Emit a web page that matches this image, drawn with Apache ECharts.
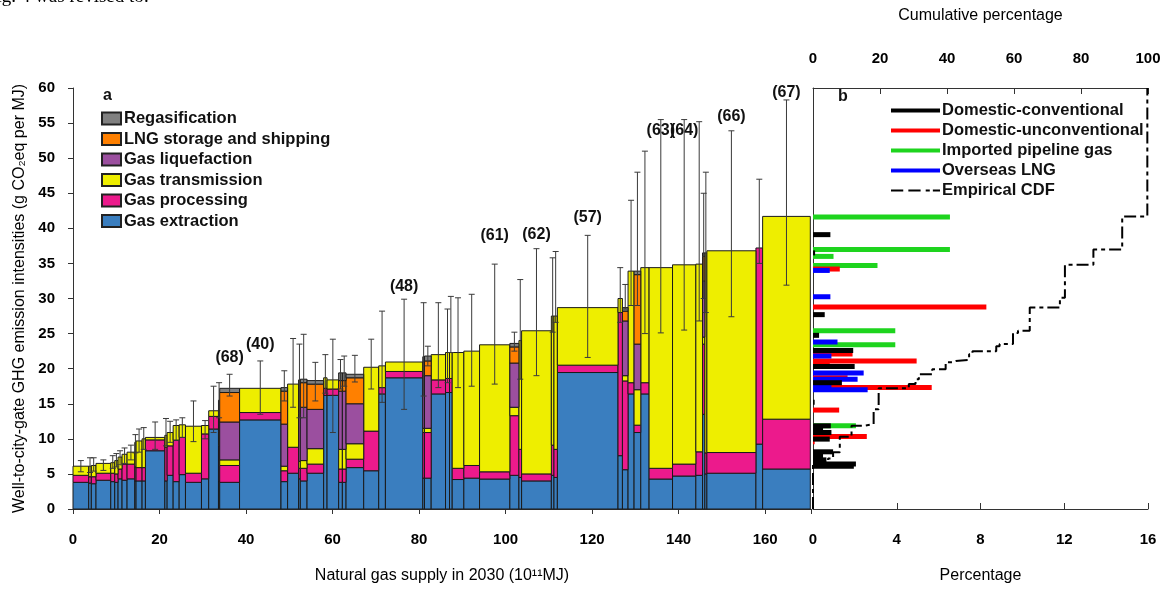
<!DOCTYPE html>
<html>
<head>
<meta charset="utf-8">
<script src="https://cdn.jsdelivr.net/npm/echarts@6.0.0/dist/echarts.min.js"></script>
<style>
  html, body { margin: 0; padding: 0; background: #fff; }
  #chart { width: 1166px; height: 589px; }
</style>
</head>
<body>
<div id="chart"></div>
<script>
// ---- panel a: supply (width of each region, 10^11 MJ) and stage intensities (g CO2eq/MJ)
var supplyWidth = [3.63, 0.61, 1.08, 3.41, 0.92, 0.77, 0.92, 1.16, 1.78, 0.30,
  1.39, 0.77, 4.49, 0.53, 1.39, 1.39, 1.46, 3.70, 1.67, 2.26,
  0.28, 4.59, 9.58, 1.53, 2.54, 0.40, 1.55, 3.84, 0.79, 2.68,
  0.86, 0.85, 4.08, 3.47, 1.55, 8.64, 0.39, 1.55, 3.31, 0.93,
  0.62, 2.69, 3.63, 7.01, 2.09, 0.62, 6.88, 0.60, 0.79, 14.02,
  1.02, 1.30, 1.39, 1.55, 1.92, 5.42, 5.39, 1.55, 0.53, 0.47,
  11.34, 1.55, 11.02];
var extraction = [3.8, 3.7, 3.6, 4.1, 3.9, 3.8, 4.3, 4.1, 4.3, 4.0,
  4.0, 4.0, 8.3, 4.0, 4.8, 3.9, 4.9, 3.8, 4.3, 11.4,
  4.0, 3.8, 12.7, 3.9, 5.1, 4.3, 4.0, 5.1, 16.2, 16.2,
  3.8, 3.8, 5.9, 5.45, 16.4, 18.7, 4.4, 4.4, 16.4, 16.6,
  16.6, 4.2, 4.4, 4.27, 4.8, 4.5, 4.0, 4.8, 4.5, 19.45,
  7.6, 5.6, 16.4, 10.9, 16.4, 4.27, 4.7, 4.8, 13.5, 5.0,
  5.1, 9.25, 5.7];
var processing = [1.0, 0.9, 1.0, 1.0, 1.2, 1.2, 1.4, 2.3, 2.1, 2.0,
  1.9, 1.9, 1.55, 4.8, 4.2, 5.9, 5.3, 1.3, 6.4, 1.8,
  5.0, 2.4, 1.05, 1.55, 3.7, 1.5, 1.8, 1.3, 1.0, 0.9,
  1.9, 1.9, 1.2, 5.65, 0.9, 0.9, 6.5, 6.5, 2.0, 2.0,
  2.0, 1.6, 1.8, 1.03, 8.5, 4.0, 1.0, 4.3, 4.0, 1.05,
  20.4, 12.65, 1.6, 1.05, 1.6, 1.53, 1.7, 3.35, 10.0, 3.0,
  2.95, 27.95, 7.1];
var transmission = [1.3, 1.5, 1.6, 1.4, 1.5, 1.9, 1.7, 1.4, 1.7, 3.5,
  3.8, 4.1, 0.35, 1.7, 1.9, 2.1, 1.8, 6.7, 1.2, 0.8,
  2.0, 0.8, 3.45, 0.65, 9.0, 1.0, 1.1, 2.2, 1.5, 1.3,
  2.8, 2.8, 2.2, 9.1, 3.1, 1.35, 0.6, 0.6, 3.6, 3.7,
  3.7, 16.5, 16.3, 18.1, 1.2, 15.5, 20.4, 18.4, 19.0, 8.2,
  2.0, 0.75, 15.9, 5.05, 16.4, 28.6, 28.4, 26.75, 1.0, 28.5,
  28.75, 0, 28.9];
var liquefaction = [0, 0, 0, 0, 0, 0, 0, 0, 0, 0,
  0, 0, 0, 0, 0, 0, 0, 0, 0, 0,
  4.5, 5.4, 0, 6.0, 0, 6.8, 7.6, 5.6, 0, 0,
  8.3, 8.3, 5.7, 0, 0, 0, 7.5, 7.5, 0, 0,
  0, 0, 0, 0, 6.3, 0, 0, 0, 0, 0,
  0, 7.8, 0, 6.5, 0, 0, 0, 0, 8.0, 0,
  0, 0, 0];
var lngShipping = [0, 0, 0, 0, 0, 0, 0, 0, 0, 0,
  0, 0, 0, 0, 0, 0, 0, 0, 0, 0,
  0, 4.2, 0, 4.7, 0, 4.3, 3.5, 3.6, 0, 0,
  1.5, 1.5, 3.7, 0, 0, 0, 2.0, 2.1, 0, 0,
  0, 0, 0, 0, 2.3, 0, 0, 0, 0, 0,
  0, 1.4, 0, 9.9, 0, 0, 0, 0, 3.5, 0,
  0, 0, 0];
var regasification = [0, 0, 0, 0, 0, 0, 0, 0, 0, 0,
  0, 0, 0, 0, 0, 0, 0, 0, 0, 0,
  0, 0.6, 0, 0.5, 0, 0.5, 0.5, 0.5, 0, 0,
  1.1, 1.1, 0.5, 0, 0, 0, 0.7, 0.7, 0, 0,
  0, 0, 0, 0, 0.5, 0, 0, 0, 0, 0,
  0, 0.5, 0, 0.5, 0, 0, 0, 0, 0.5, 0,
  0, 0, 0];
var errLow = [5.3, 5.2, 5.4, 5.5, 5.8, 6.0, 6.3, 6.5, 7.0, 8.0,
  8.1, 8.5, 8.5, 9.0, 9.5, 9.8, 10.2, 9.6, 10.0, 10.9,
  13.0, 16.1, 13.5, 15.4, 14.5, 13.0, 13.0, 15.4, 16.5, 10.9,
  17.1, 17.5, 18.1, 17.1, 15.2, 14.2, 16.1, 20.4, 17.3, 18.0,
  22.3, 17.3, 17.5, 17.8, 22.5, 18.5, 19.0, 25.2, 26.6, 21.6,
  26.6, 28.5, 29.0, 29.0, 25.0, 25.1, 25.5, 26.8, 30.0, 28.0,
  27.4, 35.0, 31.9];
var errHigh = [6.9, 7.3, 7.3, 7.0, 7.6, 7.9, 8.3, 8.7, 9.1, 10.6,
  11.4, 11.6, 12.4, 12.9, 12.5, 12.7, 13.0, 15.4, 12.6, 17.5,
  18.0, 19.2, 21.1, 19.7, 24.3, 23.5, 24.9, 20.9, 22.0, 24.2,
  21.3, 21.8, 21.9, 24.2, 28.2, 29.9, 29.4, 23.2, 29.4, 28.5,
  30.3, 30.1, 30.6, 34.9, 25.2, 32.7, 37.1, 35.8, 36.7, 39.0,
  34.4, 32.0, 44.0, 48.0, 51.0, 55.5, 55.5, 55.2, 45.0, 48.0,
  53.9, 47.0, 58.3];
var labelBar = [21, 22, 35, 43, 46, 49, 55, 56, 60, 62];
var labelText = ['(68)', '(40)', '(48)', '(61)', '(62)', '(57)', '(63)', '(64)', '(66)', '(67)'];
var labelLevel = [21.6, 23.5, 31.7, 39.0, 39.1, 41.5, 53.9, 53.9, 55.9, 59.3];

// ---- panel b: [percentage, intensity] per source
var conventional = [[0.83, 39.1], [0.1, 36.5], [0.56, 27.7], [0.29, 24.75], [1.92, 22.6], [1.99, 20.3],
  [1.38, 18.0], [0.08, 15.2], [0.85, 11.85], [0.48, 11.4], [0.88, 10.9], [0.8, 9.96],
  [0.96, 8.15], [0.48, 7.6], [0.64, 7.0], [2.05, 6.4], [1.95, 6.1]];
var unconventional = [[1.28, 34.2], [8.28, 28.8], [1.89, 22.1], [4.95, 21.1], [0.8, 20.7],
  [1.65, 18.7], [5.67, 17.3], [1.25, 14.1], [2.57, 10.35], [0.08, 9.6]];
var pipeline = [[6.54, 41.6], [6.54, 37.0], [0.98, 36.0], [3.08, 34.7], [3.93, 25.4], [3.93, 23.4], [2.05, 11.85]];
var overseasLng = [[0.8, 34.0], [0.83, 30.25], [1.17, 23.8], [0.88, 21.8], [2.42, 19.4], [2.13, 18.5], [0.88, 17.5], [2.61, 17.0]];
var cdfPct = [0, 4.5, 6.0, 8.0, 11.5, 15.0, 18.1, 19.6, 28.6, 30.6, 31.6, 35.6, 39.6, 41.6, 42.6, 46.6,
  47.6, 54.7, 55.7, 59.7, 61.2, 64.7, 73.7, 75.2, 83.7, 92.3, 99.8, 100];
var cdfLevel = [0, 6.6, 7.2, 8.1, 10.3, 11.85, 12.1, 14.2, 17.2, 17.8, 18.5, 19.2, 19.9, 20.9, 21.1, 21.25,
  22.05, 22.5, 23.2, 23.5, 25.1, 25.4, 28.7, 30.1, 34.8, 37.0, 41.7, 60];

var FONT = 'Liberation Sans, Arial, sans-serif';
var stageNames = ['Gas extraction', 'Gas processing', 'Gas transmission', 'Gas liquefaction', 'LNG storage and shipping', 'Regasification'];
var stageValues = [extraction, processing, transmission, liquefaction, lngShipping, regasification];
var stageColors = ['#3a7ebf', '#ec1a8c', '#eeee00', '#9b4f9f', '#ff8000', '#808080'];

var x0 = [], x1 = [], acc = 0;
supplyWidth.forEach(function (w) { x0.push(acc); acc += w; x1.push(acc); });

var base = supplyWidth.map(function () { return 0; });
var series = stageValues.map(function (vals, k) {
  var data = [];
  vals.forEach(function (v, i) {
    if (v > 0) data.push([x0[i], x1[i], base[i], base[i] + v]);
    base[i] += v;
  });
  return {
    name: stageNames[k],
    type: 'custom',
    xAxisIndex: 0, yAxisIndex: 0,
    itemStyle: { color: stageColors[k], borderColor: '#222', borderWidth: 1 },
    encode: { x: [0, 1], y: [2, 3] },
    renderItem: function (params, api) {
      var p0 = api.coord([api.value(0), api.value(3)]);
      var p1 = api.coord([api.value(1), api.value(2)]);
      return {
        type: 'rect',
        shape: { x: p0[0], y: p0[1], width: p1[0] - p0[0], height: p1[1] - p0[1] },
        style: { fill: stageColors[k], stroke: '#1a1a1a', lineWidth: 1 }
      };
    },
    data: data
  };
});

// error bars
series.push({
  type: 'custom',
  xAxisIndex: 0, yAxisIndex: 0,
  encode: { x: 0, y: [1, 2] },
  renderItem: function (params, api) {
    var lo = api.coord([api.value(0), api.value(1)]);
    var hi = api.coord([api.value(0), api.value(2)]);
    var st = { stroke: '#3a3a3a', lineWidth: 1 };
    return {
      type: 'group',
      children: [
        { type: 'line', shape: { x1: lo[0], y1: lo[1], x2: hi[0], y2: hi[1] }, style: st },
        { type: 'line', shape: { x1: lo[0] - 3, y1: lo[1], x2: lo[0] + 3, y2: lo[1] }, style: st },
        { type: 'line', shape: { x1: hi[0] - 3, y1: hi[1], x2: hi[0] + 3, y2: hi[1] }, style: st }
      ]
    };
  },
  data: supplyWidth.map(function (w, i) { return [(x0[i] + x1[i]) / 2, errLow[i], errHigh[i]]; })
});

// region labels
series.push({
  type: 'custom',
  xAxisIndex: 0, yAxisIndex: 0,
  encode: { x: 0, y: 1 },
  renderItem: function (params, api) {
    var p = api.coord([api.value(0), api.value(1)]);
    return {
      type: 'text',
      style: { x: p[0], y: p[1], text: labelText[params.dataIndex], align: 'center', verticalAlign: 'middle',
        font: 'bold 16px ' + FONT, fill: '#111' }
    };
  },
  data: labelBar.map(function (b, j) { return [(x0[b] + x1[b]) / 2, labelLevel[j]]; })
});

// panel b bars
function sourceSeries(name, color, data) {
  return {
    name: name, type: 'custom', xAxisIndex: 1, yAxisIndex: 1,
    itemStyle: { color: color },
    encode: { x: 0, y: 1 },
    renderItem: function (params, api) {
      var a = api.coord([0, api.value(1)]);
      var b = api.coord([api.value(0), api.value(1)]);
      return { type: 'rect', shape: { x: a[0], y: a[1] - 2.5, width: b[0] - a[0], height: 5 }, style: { fill: color } };
    },
    data: data
  };
}
series.push(sourceSeries('Imported pipeline gas', '#1ed41e', pipeline));
series.push(sourceSeries('Domestic-unconventional', '#ff0000', unconventional));
series.push(sourceSeries('Overseas LNG', '#0000ff', overseasLng));
series.push(sourceSeries('Domestic-conventional', '#000000', conventional));
series.push({
  name: 'Empirical CDF', type: 'line', xAxisIndex: 2, yAxisIndex: 1,
  step: 'start', showSymbol: false, symbol: 'none',
  itemStyle: { color: '#000' },
  lineStyle: { color: '#000', width: 2, type: [12, 4, 4, 4] },
  data: cdfPct.map(function (p, i) { return [p, cdfLevel[i]]; })
});

var tickLabel = { color: '#000', fontWeight: 'bold', fontSize: 15, fontFamily: FONT };
var axisLine = { show: true, lineStyle: { color: '#333', width: 1 } };
var dashIcon = 'path://M0,0h12v2h-12zM17,0h12v2h-12zM34,0h4v2h-4zM41,0h7v2h-7z';

var option = {
  animation: false,
  backgroundColor: '#fff',
  textStyle: { fontFamily: FONT },
  grid: [
    { left: 73, top: 88, width: 738, height: 422 },
    { left: 813, top: 88, width: 335, height: 422 }
  ],
  xAxis: [
    { type: 'value', gridIndex: 0, min: 0, max: 170.6, interval: 20, splitLine: { show: false },
      axisLine: axisLine, axisTick: { show: true, inside: false, length: 5, lineStyle: { color: '#333' } },
      axisLabel: Object.assign({ margin: 23, formatter: function (v) { return v % 20 === 0 ? v : ''; } }, tickLabel),
      name: 'Natural gas supply in 2030 (10¹¹MJ)', nameLocation: 'middle', nameGap: 59,
      nameTextStyle: { color: '#000', fontSize: 16, fontFamily: FONT } },
    { type: 'value', gridIndex: 1, min: 0, max: 16, interval: 4, position: 'bottom', splitLine: { show: false },
      axisLine: axisLine, axisTick: { show: true, inside: true, length: 6, lineStyle: { color: '#333' } },
      axisLabel: Object.assign({ margin: 23 }, tickLabel),
      name: 'Percentage', nameLocation: 'middle', nameGap: 59,
      nameTextStyle: { color: '#000', fontSize: 16, fontFamily: FONT } },
    { type: 'value', gridIndex: 1, min: 0, max: 100, interval: 20, position: 'top', splitLine: { show: false },
      axisLine: axisLine, axisTick: { show: true, inside: true, length: 6, lineStyle: { color: '#333' } },
      axisLabel: Object.assign({ margin: 22 }, tickLabel),
      name: 'Cumulative percentage', nameLocation: 'middle', nameGap: 64,
      nameTextStyle: { color: '#000', fontSize: 16, fontFamily: FONT } }
  ],
  yAxis: [
    { type: 'value', gridIndex: 0, min: 0, max: 60, interval: 5, splitLine: { show: false },
      axisLine: axisLine, axisTick: { show: true, inside: false, length: 5, lineStyle: { color: '#333' } },
      axisLabel: Object.assign({ margin: 18 }, tickLabel),
      name: 'Well-to-city-gate GHG emission intensities (g CO₂eq per MJ)', nameLocation: 'middle', nameGap: 38,
      nameTextStyle: { color: '#000', fontSize: 16, fontFamily: FONT } },
    { type: 'value', gridIndex: 1, min: 0, max: 60, interval: 5, splitLine: { show: false },
      axisLine: axisLine, axisTick: { show: false }, axisLabel: { show: false } }
  ],
  legend: [
    { orient: 'vertical', left: 96, top: 105, itemWidth: 19, itemHeight: 12, itemGap: 3.5, icon: 'rect',
      selectedMode: false,
      textStyle: { color: '#111', fontWeight: 'bold', fontSize: 16.5, fontFamily: FONT, padding: [0, 0, 0, -2] },
      data: ['Regasification', 'LNG storage and shipping', 'Gas liquefaction', 'Gas transmission', 'Gas processing', 'Gas extraction'] },
    { orient: 'vertical', left: 886, top: 97, itemWidth: 49, itemHeight: 4, itemGap: 3, selectedMode: false,
      textStyle: { color: '#111', fontWeight: 'bold', fontSize: 16.5, fontFamily: FONT, padding: [0, 0, 0, -3] },
      data: [
        { name: 'Domestic-conventional', icon: 'rect' },
        { name: 'Domestic-unconventional', icon: 'rect' },
        { name: 'Imported pipeline gas', icon: 'rect' },
        { name: 'Overseas LNG', icon: 'rect' },
        { name: 'Empirical CDF', icon: dashIcon }
      ] }
  ],
  graphic: [
    { type: 'text', left: 103, top: 88, style: { text: 'a', font: 'bold 16px ' + FONT, fill: '#111' } },
    { type: 'text', left: 838, top: 89, style: { text: 'b', font: 'bold 16px ' + FONT, fill: '#111' } },
    { type: 'text', left: -14, top: -12, style: { text: 'Fig. 4 was revised to:', font: '19px Liberation Serif, serif', fill: '#000' } }
  ],
  series: series
};

var chart = echarts.init(document.getElementById('chart'));
chart.setOption(option);
</script>
</body>
</html>
